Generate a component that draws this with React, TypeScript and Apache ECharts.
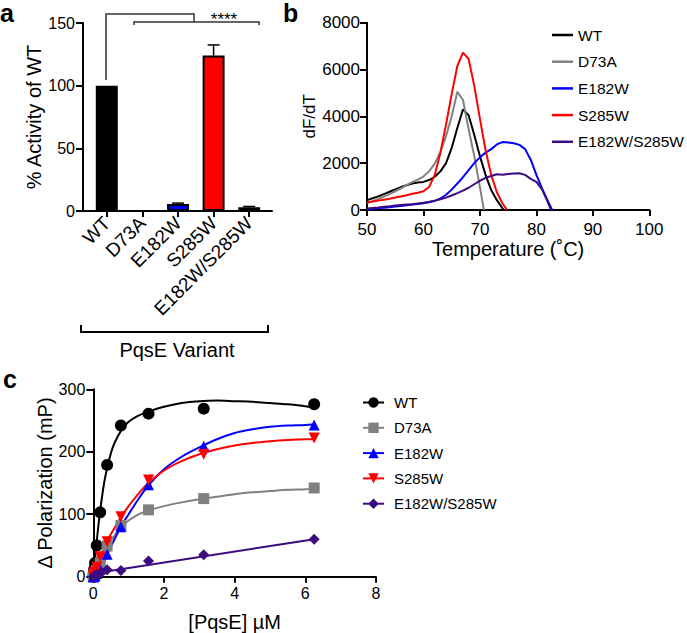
import React, { useEffect, useRef } from 'react';
import * as echarts from 'echarts';

const FONT = 'Liberation Sans, Arial, Helvetica, sans-serif';

// ---------- Panel a ----------
const variants = ['WT', 'D73A', 'E182W', 'S285W', 'E182W/S285W'];
const activity = [100, 0, 5.5, 124, 3];
const activitySD = [0, 0, 0.8, 8.5, 0.6];
const barColors = ['#000000', '#808080', '#0000ff', '#ff0000', '#3d0b80'];

// ---------- Panel b ----------
const tempB = [50, 51, 52, 53, 54, 55, 56, 57, 58, 59, 60, 61, 62, 63, 64, 65, 66, 67, 68, 69, 70, 71, 72, 73, 74, 75, 76, 77, 78, 79, 80, 81, 82];
const wtB = [420, 500, 580, 680, 780, 880, 980, 1060, 1130, 1170, 1200, 1280, 1420, 1650, 2000, 2650, 3500, 4300, 4050, 3200, 2300, 1500, 850, 420];
const wtBEnd = 74.2;
const d73aB = [300, 380, 470, 570, 680, 800, 920, 1060, 1190, 1300, 1430, 1650, 1980, 2480, 3150, 4000, 5050, 4700, 3450, 2300, 980];
const d73aBEnd = 70.7;
const e182wB = [20, 50, 80, 100, 120, 150, 170, 200, 230, 260, 290, 330, 390, 490, 650, 870, 1130, 1400, 1700, 2000, 2250, 2450, 2600, 2800, 2900, 2880, 2850, 2780, 2600, 2150, 1500, 920, 400];
const e182wBEnd = 82.8;
const s285wB = [320, 360, 400, 440, 480, 530, 580, 630, 690, 740, 800, 980, 1500, 2450, 3650, 4950, 6150, 6720, 6450, 5300, 3900, 2550, 1500, 760, 280];
const s285wBEnd = 74.8;
const dblB = [60, 90, 110, 140, 160, 190, 210, 230, 250, 280, 310, 350, 400, 460, 530, 620, 720, 830, 950, 1100, 1250, 1370, 1450, 1530, 1510, 1540, 1560, 1570, 1500, 1330, 1200, 880, 350];
const dblBEnd = 82.6;

// ---------- Panel c ----------
const concC = [6.25, 3.125, 1.5625, 0.78125, 0.390625, 0.1953, 0.0977, 0.0488, 0.0244, 0.0122, 0];
const wtC = [276, 269, 261, 242, 179, 103, 50, 22, 12, 5, 0];
const d73aC = [142, 125, 107, 82, 49, 22, 10, 5, 3, 1, 0];
const e182wC = [243, 209, 147, 80, 36, 12, 5, 2, 1, 0, 0];
const s285wC = [222, 196, 155, 96, 56, 32, 15, 8, 4, 2, 0];
const dblC = [60, 35, 25, 10, 11, 5, 3, 2, 1, 0, 0];

const wtFitX = [0, 0.05, 0.1, 0.15, 0.2, 0.3, 0.4, 0.5, 0.6, 0.8, 1.0, 1.25, 1.5, 2.0, 2.5, 3.0, 3.5, 4.0, 4.5, 5.0, 5.5, 6.0, 6.25];
const wtFitY = [0, 30, 58, 85, 108, 148, 176, 198, 214, 235, 248, 257, 263, 272, 278, 281, 282, 281, 280, 278, 276, 273, 271];
const d73aFitX = [0, 0.2, 0.4, 0.6, 0.8, 1.0, 1.25, 1.5, 2.0, 2.5, 3.0, 3.5, 4.0, 4.5, 5.0, 5.5, 6.0, 6.25];
const d73aFitY = [0, 25, 48, 66, 80, 90, 99, 105, 113, 119, 124, 128, 132, 135, 137, 139, 140, 141];
const e182wFitX = [0.18, 0.3, 0.4, 0.6, 0.8, 1.0, 1.25, 1.5, 2.0, 2.5, 3.0, 3.5, 4.0, 4.5, 5.0, 5.5, 6.0, 6.25];
const e182wFitY = [0, 22, 36, 60, 82, 100, 122, 142, 172, 192, 207, 220, 230, 236, 240, 242, 243, 244];
const s285wFitX = [0.1, 0.2, 0.3, 0.4, 0.6, 0.8, 1.0, 1.25, 1.5, 2.0, 2.5, 3.0, 3.5, 4.0, 4.5, 5.0, 5.5, 6.0, 6.25];
const s285wFitY = [32, 34, 45, 58, 78, 97, 113, 131, 147, 170, 185, 196, 204, 210, 214, 217, 219, 220, 220];
const dblFitX = [0, 6.25];
const dblFitY = [5, 60];

const cSymbols = ['circle', 'rect', 'triangle', 'triangle', 'diamond'];
const cRotate = [0, 0, 0, 180, 0];
const cColors = ['#000000', '#808080', '#0000ff', '#ff0000', '#3d0b80'];

const pairs = (xs: number[], ys: number[]) => ys.map((y, i) => [xs[i], y]);

export default function App() {
  const ref = useRef<HTMLDivElement>(null);
  useEffect(() => {
    if (!ref.current) return;
    const chart = echarts.init(ref.current, undefined, { renderer: 'svg' });

    const axisLine = { show: true, lineStyle: { color: '#000', width: 2 } };
    const tick = { show: true, length: 7, lineStyle: { color: '#000', width: 2 } };
    const lbl = (size: number, margin: number) => ({
      fontFamily: FONT, fontSize: size, color: '#000', margin,
      formatter: (v: any) => String(v),
    });
    const nameStyle = (size: number) => ({ fontFamily: FONT, fontSize: size, color: '#000' });

    const bSeries = [
      { name: 'WT', vals: wtB, end: wtBEnd, color: '#000000' },
      { name: 'D73A', vals: d73aB, end: d73aBEnd, color: '#808080' },
      { name: 'E182W', vals: e182wB, end: e182wBEnd, color: '#0000ff' },
      { name: 'S285W', vals: s285wB, end: s285wBEnd, color: '#ff0000' },
      { name: 'E182W/S285W', vals: dblB, end: dblBEnd, color: '#3d0b80' },
    ].map((s) => ({
      type: 'line', name: s.name, xAxisIndex: 2, yAxisIndex: 2,
      symbol: 'none', showSymbol: false,
      lineStyle: { color: s.color, width: 2 }, itemStyle: { color: s.color },
      data: s.vals.map((v, i) => [tempB[i], v]).concat([[s.end, 0]]),
      z: 3,
    }));

    const fits = [
      [wtFitX, wtFitY], [d73aFitX, d73aFitY], [e182wFitX, e182wFitY], [s285wFitX, s285wFitY], [dblFitX, dblFitY],
    ];
    const pts = [wtC, d73aC, e182wC, s285wC, dblC];

    const cLines = variants.map((v, i) => ({
      type: 'line', name: v + '|c', xAxisIndex: 3, yAxisIndex: 3,
      symbol: cSymbols[i], symbolRotate: cRotate[i], showSymbol: false,
      smooth: 0.3,
      lineStyle: { color: cColors[i], width: 2 }, itemStyle: { color: cColors[i] },
      data: pairs(fits[i][0], fits[i][1]),
      z: 3,
    }));
    const cPts = variants.map((v, i) => ({
      type: 'scatter', name: v + ' points', xAxisIndex: 3, yAxisIndex: 3,
      symbol: cSymbols[i], symbolRotate: cRotate[i], symbolSize: i === 0 ? 12 : 11,
      itemStyle: { color: cColors[i], opacity: 1 },
      data: pairs(concC, pts[i]),
      z: 4,
    }));

    const option: any = {
      animation: false,
      backgroundColor: '#ffffff',
      textStyle: { fontFamily: FONT },
      grid: [
        { left: 83, top: 23, width: 189, height: 188, outerBoundsMode: 'none' },
        { left: 89, top: 23, width: 178, height: 188, outerBoundsMode: 'none' },
        { left: 367, top: 22.7, width: 282.3, height: 187.3, outerBoundsMode: 'none' },
        { left: 93.3, top: 389.3, width: 282.7, height: 187.4, outerBoundsMode: 'none' },
      ],
      xAxis: [
        { type: 'value', gridIndex: 0, min: 0, max: 1, axisLine, axisTick: { show: false }, axisLabel: { show: false }, splitLine: { show: false } },
        {
          type: 'category', gridIndex: 1, data: variants, boundaryGap: true,
          axisLine: { show: false }, axisTick: { show: true, alignWithLabel: true, length: 6, lineStyle: { color: '#000', width: 2 } },
          axisLabel: { fontFamily: FONT, fontSize: 19, color: '#000', rotate: 45, margin: 9, interval: 0 },
          splitLine: { show: false },
        },
        {
          type: 'value', gridIndex: 2, min: 50, max: 100, interval: 10,
          axisLine, axisTick: { ...tick, length: 6 }, axisLabel: lbl(17, 11), splitLine: { show: false },
          name: 'Temperature (˚C)', nameLocation: 'middle', nameGap: 25, nameTextStyle: nameStyle(20),
        },
        {
          type: 'value', gridIndex: 3, min: 0, max: 8, interval: 2,
          axisLine, axisTick: { ...tick, length: 6 }, axisLabel: lbl(16, 9), splitLine: { show: false },
          name: '[PqsE] µM', nameLocation: 'middle', nameGap: 35, nameTextStyle: nameStyle(20),
        },
      ],
      yAxis: [
        {
          type: 'value', gridIndex: 0, min: 0, max: 150, interval: 50,
          axisLine, axisTick: tick, axisLabel: lbl(16, 8), splitLine: { show: false },
          name: '% Activity of WT', nameLocation: 'middle', nameGap: 36, nameTextStyle: nameStyle(20),
        },
        { type: 'value', gridIndex: 1, min: 0, max: 150, show: false, splitLine: { show: false } },
        {
          type: 'value', gridIndex: 2, min: 0, max: 8000, interval: 2000,
          axisLine, axisTick: tick, axisLabel: lbl(17, 7), splitLine: { show: false },
          name: 'dF/dT', nameLocation: 'middle', nameGap: 46, nameTextStyle: nameStyle(17),
        },
        {
          type: 'value', gridIndex: 3, min: 0, max: 300, interval: 100,
          axisLine, axisTick: tick, axisLabel: lbl(16, 8), splitLine: { show: false },
          name: 'Δ Polarization (mP)', nameLocation: 'middle', nameGap: 23, nameTextStyle: nameStyle(20),
        },
      ],
      legend: [
        {
          data: ['WT', 'D73A', 'E182W', 'S285W', 'E182W/S285W'],
          orient: 'vertical', left: 547, top: 22, icon: 'rect', itemWidth: 21, itemHeight: 2.5, itemGap: 10.7,
          textStyle: { fontFamily: FONT, fontSize: 15.5, color: '#000' }, selectedMode: false,
        },
        {
          data: variants.map((v) => v + '|c'),
          formatter: (n: string) => n.split('|')[0],
          orient: 'vertical', left: 357, top: 390, itemWidth: 21, itemHeight: 13, itemGap: 10.3,
          textStyle: { fontFamily: FONT, fontSize: 15, color: '#000', padding: [0, 0, 0, 5] }, selectedMode: false,
        },
      ],
      series: [
        {
          type: 'bar', name: 'activity', xAxisIndex: 1, yAxisIndex: 1, barWidth: 22,
          data: activity.map((v, i) => ({
            value: v,
            itemStyle: { color: barColors[i], borderColor: '#000', borderWidth: 2 },
          })),
          z: 2,
        },
        {
          type: 'custom', name: 'sd', xAxisIndex: 1, yAxisIndex: 1,
          data: activity.map((v, i) => [i, v, v + activitySD[i]]).filter((d, i) => activitySD[i] > 0),
          renderItem: (params: any, api: any) => {
            const x = api.value(0);
            const p1 = api.coord([x, api.value(1)]);
            const p2 = api.coord([x, api.value(2)]);
            const st = { stroke: '#000', lineWidth: 1.5 };
            return {
              type: 'group',
              children: [
                { type: 'line', shape: { x1: p1[0], y1: p1[1], x2: p2[0], y2: p2[1] }, style: st },
                { type: 'line', shape: { x1: p2[0] - 6, y1: p2[1], x2: p2[0] + 6, y2: p2[1] }, style: st },
              ],
            };
          },
          z: 3,
        },
        ...bSeries,
        ...cLines,
        ...cPts,
      ],
      graphic: [
        { type: 'text', left: 0, top: 0, style: { text: 'a', font: `bold 25px ${FONT}`, fill: '#000' } },
        { type: 'text', left: 283, top: 0, style: { text: 'b', font: `bold 25px ${FONT}`, fill: '#000' } },
        { type: 'text', left: 3, top: 366, style: { text: 'c', font: `bold 25px ${FONT}`, fill: '#000' } },
        { type: 'polyline', shape: { points: [[106, 80], [106, 14], [194, 14], [194, 22]] }, style: { stroke: '#333', lineWidth: 1.5, fill: null } },
        { type: 'polyline', shape: { points: [[134, 25], [134, 22], [259, 22], [259, 25]] }, style: { stroke: '#333', lineWidth: 1.5, fill: null } },
        { type: 'text', x: 224, y: 11, style: { text: '****', font: `17px ${FONT}`, fill: '#000', align: 'center', verticalAlign: 'top' } },
        { type: 'polyline', shape: { points: [[81, 325], [81, 332], [268, 332], [268, 325]] }, style: { stroke: '#000', lineWidth: 2, fill: null } },
        { type: 'text', x: 177, y: 350, style: { text: 'PqsE Variant', font: `20px ${FONT}`, fill: '#000', align: 'center', verticalAlign: 'middle' } },
      ],
    };
    chart.setOption(option);
    return () => chart.dispose();
  }, []);
  return <div ref={ref} style={{ width: 687, height: 633, position: 'absolute', left: 0, top: 0 }} />;
}
